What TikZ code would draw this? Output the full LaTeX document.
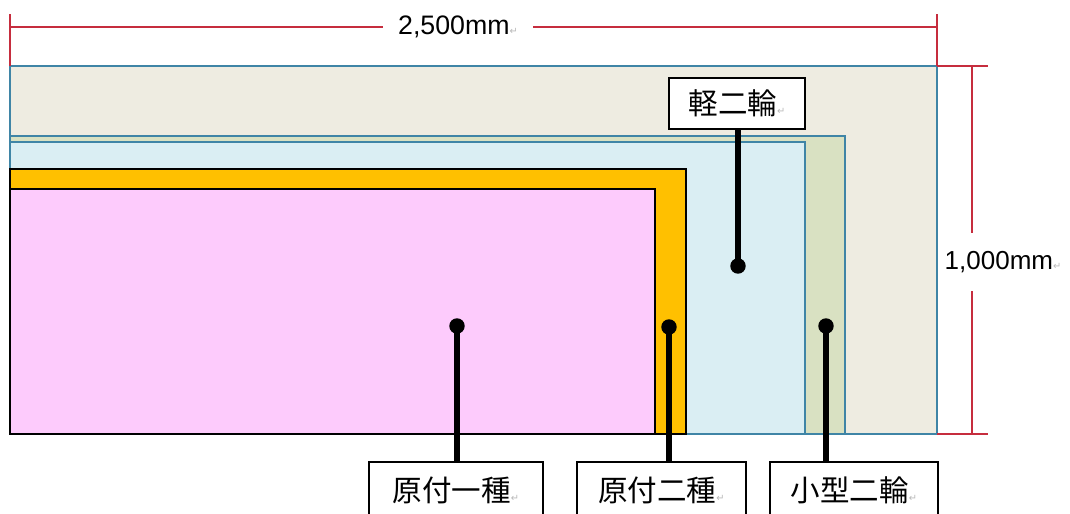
\documentclass[tikz,border=0pt]{standalone}
\usepackage{fontspec}
\setmainfont{Liberation Sans}
\newfontfamily\jp{Noto Sans CJK JP}
\newfontfamily\sym{DejaVu Sans}
\usetikzlibrary{positioning}

\definecolor{keibg}{HTML}{EEECE1}
\definecolor{kogatabg}{HTML}{D9E1C2}
\definecolor{nishubg}{HTML}{DAEEF3}
\definecolor{gentsuki2}{HTML}{FFC000}
\definecolor{gentsuki1}{HTML}{FDCBFC}
\definecolor{edgeblue}{HTML}{3F85A6}
\definecolor{dimred}{HTML}{C62D3E}

\newcommand\retmark{{\sym\fontsize{7}{7}\selectfont\color{gray!55}↵}}

\tikzset{
  area/.style={draw=edgeblue,line width=.9pt},
  blackarea/.style={draw=black,line width=1pt},
  dim/.style={draw=dimred,line width=.9pt},
  dimtext/.style={fill=white,inner sep=2pt,font=\fontsize{18.5}{20}\selectfont},
  tag/.style={draw,fill=white,line width=1.2pt,inner sep=0pt,minimum height=1.4cm,font=\jp\fontsize{21}{24}\selectfont},
  dot/.style={circle,fill=black,inner sep=0pt,minimum size=11pt},
  lead/.style={line width=3.6pt}
}

\begin{document}
\begin{tikzpicture}[x=0.025cm,y=-0.025cm]
\useasboundingbox (0,0) rectangle (1070,513);
\clip (0,0) rectangle (1070,513);

% areas
\path[area,fill=keibg] (10,66) rectangle (937,434);
\path[area,fill=kogatabg] (10,136) rectangle (845,434);
\path[area,fill=nishubg] (10,142) rectangle (805,434);
\path[blackarea,fill=gentsuki2] (10,169) rectangle (686,434);
\path[blackarea,fill=gentsuki1] (10,189) rectangle (655,434);

% dimensions
\coordinate (tl) at (10,27); \coordinate (tr) at (937,27);
\coordinate (tlu) at (10,14); \coordinate (tld) at (10,66);
\coordinate (tru) at (937,14); \coordinate (trd) at (937,66);
\path[dim] (tlu) -- (tld);
\path[dim] (tru) -- (trd);
\path[dim] (tl) -- (tr);
\node[dimtext,font=\fontsize{19}{21}\selectfont,inner xsep=10.5pt] (wlen) at (458,27) {2,500mm\retmark};

\coordinate (rt) at (972,66); \coordinate (rb) at (972,434);
\coordinate (rtl) at (937,66); \coordinate (rtr) at (988,66);
\coordinate (rbl) at (937,434); \coordinate (rbr) at (988,434);
\path[dim] (rtl) -- (rtr);
\path[dim] (rbl) -- (rbr);
\path[dim] (rt) -- (rb);
\node[dimtext,inner xsep=1pt,inner ysep=13pt] (hlen) at (1003,262) {1,000mm\retmark};

% labels
\node[tag,minimum width=3.4cm,minimum height=1.275cm] (kei) at (737,103.5) {軽二輪\retmark};
\node[tag,minimum width=4.35cm] (gen1) at (456,490) {原付一種\retmark};
\node[tag,minimum width=4.225cm] (gen2) at (661.5,490) {原付二種\retmark};
\node[tag,minimum width=4.2cm] (kogata) at (854,490) {小型二輪\retmark};

\node[dot] (dkei) at (738,266) {};
\node[dot] (dgen1) at (457,326) {};
\node[dot] (dgen2) at (669,327) {};
\node[dot] (dkogata) at (826,326) {};

\path[draw,lead] (dkei.center) -- (dkei.center |- kei.south);
\path[draw,lead] (dgen1.center) -- (dgen1.center |- gen1.north);
\path[draw,lead] (dgen2.center) -- (dgen2.center |- gen2.north);
\path[draw,lead] (dkogata.center) -- (dkogata.center |- kogata.north);
\end{tikzpicture}
\end{document}
